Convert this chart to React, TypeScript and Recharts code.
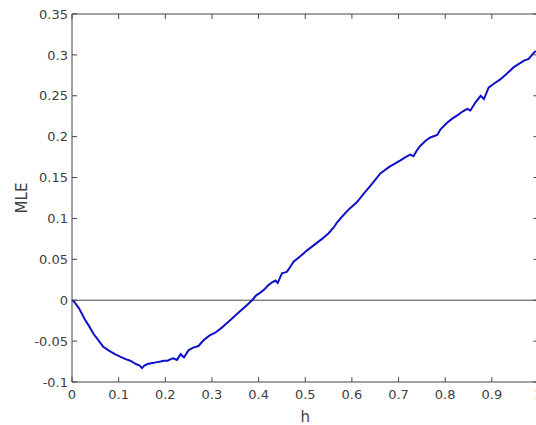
import React from 'react'
import { LineChart, Line, XAxis, YAxis, ReferenceLine } from 'recharts'

// h values
const hValues = [
  0, 0.005, 0.015, 0.028, 0.037, 0.046, 0.058, 0.067, 0.08, 0.092, 0.103, 0.115, 0.125, 0.137, 0.145,
  0.15, 0.155, 0.162, 0.17, 0.18, 0.19, 0.196, 0.205, 0.212, 0.217, 0.225, 0.233, 0.24, 0.25, 0.26,
  0.271, 0.282, 0.295, 0.306, 0.318, 0.33, 0.342, 0.353, 0.365, 0.377, 0.386, 0.395, 0.403, 0.412,
  0.42, 0.429, 0.436, 0.441, 0.45, 0.457, 0.461, 0.468, 0.475, 0.49, 0.504, 0.52, 0.536, 0.55, 0.561,
  0.568, 0.58, 0.595, 0.611, 0.625, 0.64, 0.661, 0.68, 0.704, 0.715, 0.725, 0.732, 0.74, 0.747,
  0.758, 0.768, 0.783, 0.79, 0.804, 0.815, 0.826, 0.838, 0.847, 0.854, 0.865, 0.876, 0.883, 0.893,
  0.905, 0.918, 0.932, 0.947, 0.958, 0.969, 0.979, 0.986, 0.994
]

const mleValues = [
  0, -0.002, -0.01, -0.024, -0.032, -0.041, -0.05, -0.057, -0.062, -0.066, -0.069, -0.072, -0.074,
  -0.078, -0.08, -0.083, -0.08, -0.078, -0.077, -0.076, -0.075, -0.074, -0.074, -0.072, -0.071,
  -0.073, -0.066, -0.07, -0.061, -0.058, -0.056, -0.049, -0.043, -0.04, -0.035, -0.029, -0.023,
  -0.017, -0.011, -0.005, 0, 0.006, 0.009, 0.013, 0.018, 0.022, 0.024, 0.021, 0.033, 0.034, 0.035,
  0.041, 0.047, 0.054, 0.061, 0.068, 0.075, 0.082, 0.089, 0.095, 0.103, 0.112, 0.12, 0.13, 0.14,
  0.155, 0.163, 0.171, 0.175, 0.178, 0.176, 0.184, 0.189, 0.195, 0.199, 0.202, 0.209, 0.217, 0.222,
  0.226, 0.231, 0.234, 0.232, 0.242, 0.25, 0.246, 0.26, 0.265, 0.27, 0.277, 0.285, 0.289, 0.293,
  0.295, 0.3, 0.305
]

const xTicks = [0, 0.1, 0.2, 0.3, 0.4, 0.5, 0.6, 0.7, 0.8, 0.9, 1]
const yTicks = [-0.1, -0.05, 0, 0.05, 0.1, 0.15, 0.2, 0.25, 0.3, 0.35]

const data = hValues.map((h, i) => ({ h, mle: mleValues[i] }))

const xMin = 0
const xMax = 1
const yMin = -0.1
const yMax = 0.35
// inward tick length, in data units (about 5px each way)
const xTickLen = 0.011
const yTickLen = 0.006

const axisColor = '#454545'
const textColor = '#404040'
const font = 'DejaVu Sans'
const tickStyle = { fontSize: 13, fill: textColor, fontFamily: font }

const App: React.FC = () => {
  return (
    <div
      style={{
        position: 'fixed',
        left: 0,
        top: 0,
        width: 536,
        height: 425,
        overflow: 'hidden',
        background: '#fff'
      }}
    >
      <LineChart width={560} height={425} data={data} margin={{ top: 14, right: 21.5, bottom: 0, left: 0 }}>
        <XAxis
          dataKey="h"
          type="number"
          domain={[xMin, xMax]}
          ticks={xTicks}
          tickFormatter={(v: number) => String(v)}
          stroke={axisColor}
          tickLine={false}
          tickSize={0}
          tickMargin={8}
          tick={tickStyle}
          height={43}
          label={{
            value: 'h',
            position: 'insideBottom',
            offset: 3,
            style: { fontSize: 15, fill: textColor, fontFamily: font }
          }}
        />
        <YAxis
          type="number"
          domain={[yMin, yMax]}
          ticks={yTicks}
          tickFormatter={(v: number) => String(v)}
          stroke={axisColor}
          tickLine={false}
          tickSize={0}
          tickMargin={4}
          tick={tickStyle}
          width={72}
          label={{
            value: 'MLE',
            angle: -90,
            position: 'insideLeft',
            offset: 22,
            style: { fontSize: 15, fill: textColor, fontFamily: font, textAnchor: 'middle' }
          }}
        />
        {/* box: top and right borders */}
        <ReferenceLine y={yMax} stroke={axisColor} ifOverflow="extendDomain" />
        <ReferenceLine x={xMax} stroke={axisColor} ifOverflow="extendDomain" />
        {/* inward ticks on all four sides */}
        {xTicks.map((t) => (
          <ReferenceLine
            key={'xb' + t}
            segment={[{ x: t, y: yMin }, { x: t, y: yMin + yTickLen }]}
            stroke={axisColor}
            ifOverflow="visible"
          />
        ))}
        {xTicks.map((t) => (
          <ReferenceLine
            key={'xt' + t}
            segment={[{ x: t, y: yMax }, { x: t, y: yMax - yTickLen }]}
            stroke={axisColor}
            ifOverflow="visible"
          />
        ))}
        {yTicks.map((t) => (
          <ReferenceLine
            key={'yl' + t}
            segment={[{ x: xMin, y: t }, { x: xMin + xTickLen, y: t }]}
            stroke={axisColor}
            ifOverflow="visible"
          />
        ))}
        {yTicks.map((t) => (
          <ReferenceLine
            key={'yr' + t}
            segment={[{ x: xMax, y: t }, { x: xMax - xTickLen, y: t }]}
            stroke={axisColor}
            ifOverflow="visible"
          />
        ))}
        <ReferenceLine y={0} stroke={axisColor} strokeWidth={1} />
        <Line
          type="linear"
          dataKey="mle"
          stroke="#1010c8"
          strokeWidth={2}
          dot={false}
          isAnimationActive={false}
        />
      </LineChart>
    </div>
  )
}

export default App
